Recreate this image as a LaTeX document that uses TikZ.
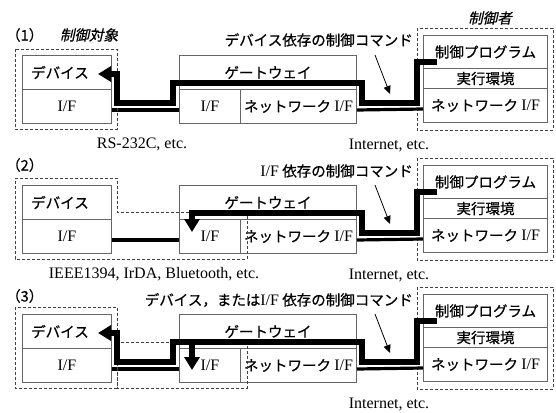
\documentclass[tikz,border=0pt]{standalone}
\usepackage{fontspec}
\setmainfont{Liberation Serif}
\newfontfamily\jpfam[FakeBold=0.6]{Noto Sans CJK JP}
\newfontfamily\jpitfam[FakeSlant=0.22,FakeBold=0.6]{Noto Sans CJK JP}
\usetikzlibrary{arrows.meta}
\newcommand\jpf{\jpfam\fontsize{14.5}{17}\selectfont}
\newcommand\jpitf{\jpitfam\fontsize{14.5}{17}\selectfont}
\newcommand\latf{\rmfamily\fontsize{16}{18}\selectfont}
\newcommand\myIF{{\latf I/F}}
\begin{document}
\begin{tikzpicture}[x=1pt,y=-1pt,
 cell/.style={draw=black!60, line width=1pt, fill=white, inner sep=0pt, anchor=north west, font=\jpf},
 jp/.style={font=\jpf, inner sep=0pt},
 jpit/.style={font=\jpitf, inner sep=0pt},
 lat/.style={font=\latf, inner sep=0pt},
 dbox/.style={draw=black!75, line width=0.9pt, dash pattern=on 3pt off 2pt},
 wire/.style={line width=3.2pt},
 cmd/.style={line width=6.5pt},
 bigtip/.style={-{Triangle[length=13pt,width=15pt]}},
 note/.style={line width=0.8pt, -{Triangle[length=8pt,width=7pt]}}]
\useasboundingbox (0,0) rectangle (556,412);
\fill[white] (0,0) rectangle (556,412);

\foreach \p/\o in {1/0,2/130,3/259}{
\begin{scope}[yshift=-\o pt]
 % device
 \node[cell, minimum width=89pt, minimum height=34pt] (dev-\p) at (22,55) {};
 \node[cell, minimum width=89pt, minimum height=34pt] (devif-\p) at (22,89) {\myIF};
 \node[jp] (devlbl-\p) at (60,72.5) {デバイス};
 % gateway
 \node[cell, minimum width=177pt, minimum height=34pt] (gw-\p) at (179,55) {ゲートウェイ};
 \node[cell, minimum width=61pt, minimum height=34pt] (gwif-\p) at (179,89) {\myIF};
 \node[cell, minimum width=116pt, minimum height=34pt] (gwnet-\p) at (240,89) {ネットワーク \myIF};
 % controller
 \node[cell, minimum width=124pt, minimum height=33pt] (prog-\p) at (423,35) {制御プログラム};
 \node[cell, minimum width=124pt, minimum height=20pt] (env-\p) at (423,68) {実行環境};
 \node[cell, minimum width=124pt, minimum height=34pt] (cnet-\p) at (423,88) {ネットワーク \myIF};
 \draw[dbox] (417,28) rectangle (553,130);
 % wires
 \draw[wire] ([yshift=-3.5pt]devif-\p.east) -- ([yshift=-3.5pt]gwif-\p.west);
 \draw[wire] ([yshift=-3.5pt]gwnet-\p.east) -- ([yshift=-3.5pt]cnet-\p.west);
 % note arrow
 \coordinate (na-\p) at (375,55);
 \coordinate (nb-\p) at (390,94);
 \draw[note] (na-\p) -- (nb-\p);
 \node[lat] (inet-\p) at (389,145) {Internet, etc.};
\end{scope}}

% panel 1
\node[jp, anchor=west] (t1) at (6,35) {（1）};
\node[jpit] (obj) at (89,35) {制御対象};
\node[jpit] (ctl) at (490,18) {制御者};
\node[jp, anchor=east] (c1) at (413,40) {デバイス依存の制御コマンド};
\node[lat] (rs) at (142,144) {RS-232C, etc.};
\draw[dbox] (15,49) rectangle (117,129);
\coordinate (cs-1) at (437,62);
\coordinate (ct-1) at (98,74);
\draw[cmd, bigtip] (cs-1) -- (417,62) -- (417,103) -- (362,103) -- (362,83) -- (173,83) -- (173,103) -- (117,103) -- (117,74) -- (ct-1);

% panel 2
\node[jp, anchor=west] (t2) at (6,165) {（2）};
\node[jp, anchor=east] (c2) at (413,171) {\myIF{} 依存の制御コマンド};
\node[lat] (ieee) at (154,274) {IEEE1394, IrDA, Bluetooth, etc.};
\draw[dbox] (15,178) -- (117,178) -- (117,212) -- (247,212) -- (247,259) -- (15,259) -- cycle;
\coordinate (cs-2) at (437,192);
\coordinate (ct-2) at (192,232);
\draw[cmd, bigtip] (cs-2) -- (417,192) -- (417,233) -- (362,233) -- (362,213) -- (192,213) -- (ct-2);

% panel 3
\node[jp, anchor=west] (t3) at (6,296) {（3）};
\node[jp, anchor=east] (c3) at (413,300) {デバイス，または\myIF{} 依存の制御コマンド};
\draw[dbox] (15,307) rectangle (117,388);
\draw[dbox] (117,342) rectangle (247,388);
\coordinate (cs-3) at (437,321);
\coordinate (ct-3) at (98,333);
\coordinate (br-3) at (192,342);
\coordinate (bt-3) at (192,370);
\draw[cmd, bigtip] (cs-3) -- (417,321) -- (417,362) -- (362,362) -- (362,342) -- (173,342) -- (173,362) -- (117,362) -- (117,333) -- (ct-3);
\draw[cmd, bigtip] (br-3) -- (bt-3);
\end{tikzpicture}
\end{document}
